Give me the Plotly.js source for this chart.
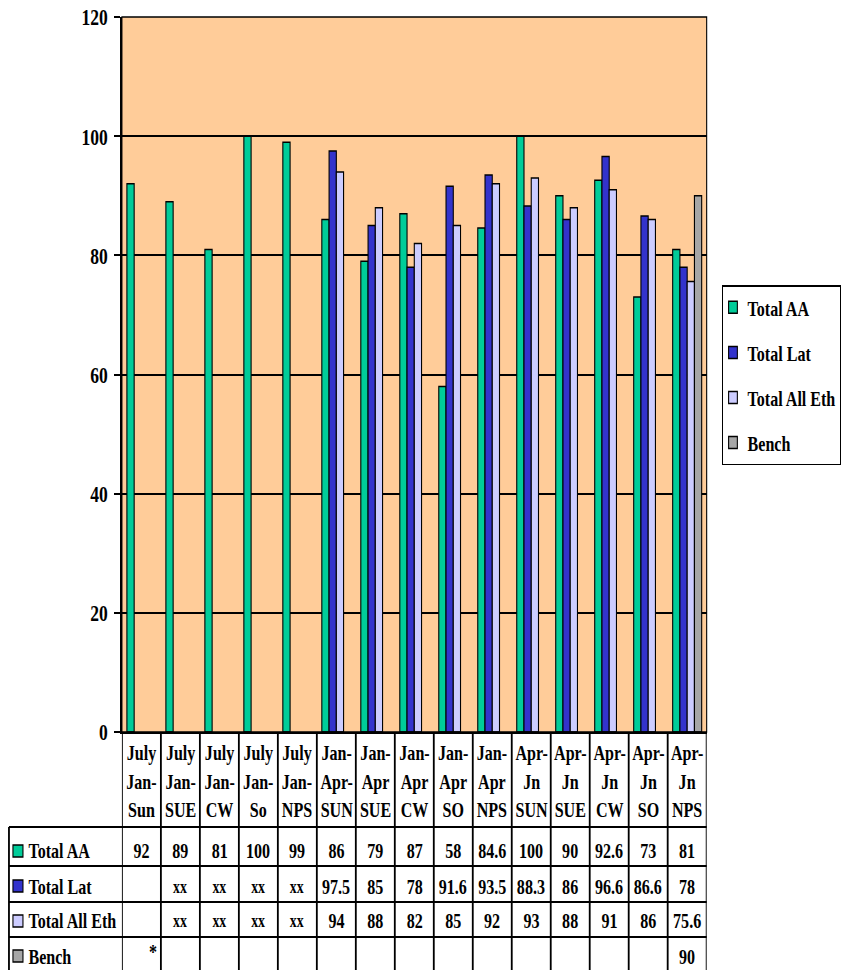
<!DOCTYPE html>
<html><head><meta charset="utf-8">
<script src="https://cdn.plot.ly/plotly-3.0.1.min.js"></script>
<style>
html,body{margin:0;padding:0;background:#fff;overflow:hidden;width:841px;height:970px;}
#wrap{width:1152px;height:970px;transform:scaleX(0.73003);transform-origin:0 0;}
</style></head><body><div id="wrap"></div>
<script>
// ---- data ----
const categories = ["July<br>Jan-<br>Sun","July<br>Jan-<br>SUE","July<br>Jan-<br>CW","July<br>Jan-<br>So","July<br>Jan-<br>NPS",
  "Jan-<br>Apr-<br>SUN","Jan-<br>Apr<br>SUE","Jan-<br>Apr<br>CW","Jan-<br>Apr<br>SO","Jan-<br>Apr<br>NPS",
  "Apr-<br>Jn<br>SUN","Apr-<br>Jn<br>SUE","Apr-<br>Jn<br>CW","Apr-<br>Jn<br>SO","Apr-<br>Jn<br>NPS"];
const seriesNames = ["Total AA","Total Lat","Total All Eth","Bench"];
const totalAA     = [92,89,81,100,99,86,79,87,58,84.6,100,90,92.6,73,81];
const totalLat    = [null,null,null,null,null,97.5,85,78,91.6,93.5,88.3,86,96.6,86.6,78];
const totalAllEth = [null,null,null,null,null,94,88,82,85,92,93,88,91,86,75.6];
const bench       = [null,null,null,null,null,null,null,null,null,null,null,null,null,null,90];
const aaNotes     = ["","","","","","","","","","","","","","",""];
const latNotes    = ["","xx","xx","xx","xx","","","","","","","","","",""];
const ethNotes    = ["","xx","xx","xx","xx","","","","","","","","","",""];
const benchNotes  = ["*","","","","","","","","","","","","","",""];
const yTicks = [0,20,40,60,80,100,120];
const colors = ["#00CC99","#3333CC","#CCCCFF","#A6A6A6"];

const series = [totalAA,totalLat,totalAllEth,bench];
const notes = [aaNotes,latNotes,ethNotes,benchNotes];
const FONT = "'Liberation Serif', 'Times New Roman', Times, serif";
const bold = (size)=>({family:FONT,size:size,color:"#000",weight:"bold"});

const traces = series.map((vals,k)=>({
  type:"bar", name:seriesNames[k], x:categories, y:vals,
  legendgroup:"g"+k,
  marker:{color:colors[k], line:{color:"#000", width:1.5}},
  hoverinfo:"skip"
}));

// table geometry (paper coords)
const pyOf = sy => (732 - sy)/715;
const pxOf = sx => (sx - 122)/585;
const rowLines = [827, 866, 902, 937];
const rowCenters = [851, 886, 921, 956];

const shapes = [];
const annotations = [];
// plot border
shapes.push({type:"rect",xref:"paper",yref:"paper",x0:0,x1:1,y0:0,y1:1,line:{color:"#000",width:1.5},layer:"above"});
// verticals of table
for(let i=0;i<=categories.length;i++){
  shapes.push({type:"line",xref:"x",yref:"paper",x0:i-0.5,x1:i-0.5,y0:0,y1:pyOf(975),line:{color:"#000",width:2.5}});
}
// horizontal row lines
rowLines.forEach(sy=>shapes.push({type:"line",xref:"paper",yref:"paper",x0:pxOf(9),x1:1,y0:pyOf(sy),y1:pyOf(sy),line:{color:"#000",width:2}}));
// left column edge
shapes.push({type:"line",xref:"paper",yref:"paper",x0:pxOf(9),x1:pxOf(9),y0:pyOf(827),y1:pyOf(975),line:{color:"#000",width:2.5}});
// header labels
categories.forEach((c,i)=>annotations.push({xref:"x",yref:"paper",x:i,y:pyOf(781),text:c,showarrow:false,
  xanchor:"center",yanchor:"middle",font:bold(22)}));
// rows
series.forEach((vals,k)=>{
  const cy = rowCenters[k];
  shapes.push({type:"rect",xref:"paper",yref:"paper",x0:pxOf(13),x1:pxOf(23),y0:pyOf(cy+6),y1:pyOf(cy-6),
    fillcolor:colors[k],line:{color:"#000",width:1.5}});
  annotations.push({xref:"paper",yref:"paper",x:pxOf(27),y:pyOf(cy),text:seriesNames[k],showarrow:false,
    xanchor:"left",yanchor:"middle",font:bold(22)});
  vals.forEach((v,i)=>{
    const n = notes[k][i];
    if(v!==null){
      annotations.push({xref:"x",yref:"paper",x:i,y:pyOf(cy),text:String(v),showarrow:false,xanchor:"center",yanchor:"middle",font:bold(22)});
    } else if(n==="*"){
      annotations.push({xref:"x",yref:"paper",x:i+0.5,y:pyOf(rowLines[3]),text:n,showarrow:false,xanchor:"right",yanchor:"top",xshift:-3,font:bold(22)});
    } else if(n){
      annotations.push({xref:"x",yref:"paper",x:i,y:pyOf(cy),text:n,showarrow:false,xanchor:"center",yanchor:"middle",font:bold(19)});
    }
  });
});

const layout = {
  width:1152, height:970,
  margin:{l:167.12,r:183.5,t:17,b:238,autoexpand:false},
  paper_bgcolor:"#fff", plot_bgcolor:"#FFCC99",
  font:{family:FONT,color:"#000",weight:"bold"},
  barmode:"group", bargap:0.256, bargroupgap:0,
  showlegend:true,
  legend:{x:pxOf(722),xanchor:"left",y:pyOf(285),yanchor:"top",bgcolor:"#fff",bordercolor:"#000",borderwidth:1.5,
    font:bold(22),tracegroupgap:13.5,itemwidth:30,traceorder:"grouped",indentation:-6},
  xaxis:{type:"category",categoryorder:"array",categoryarray:categories,range:[-0.5,categories.length-0.5],
    showticklabels:false,ticks:"",showgrid:false,showline:true,linecolor:"#000",linewidth:2,zeroline:false,fixedrange:true},
  yaxis:{range:[0,120],tickvals:yTicks,ticktext:yTicks.map(String),showgrid:true,gridcolor:"#000",gridwidth:2,
    showline:true,linecolor:"#000",linewidth:2.5,ticks:"outside",ticklen:8,tickwidth:2,tickcolor:"#000",
    tickfont:bold(24),zeroline:false,ticklabelstandoff:4,fixedrange:true},
  shapes:shapes, annotations:annotations
};
Plotly.newPlot("wrap",traces,layout,{displayModeBar:false,staticPlot:true});
</script></body></html>
